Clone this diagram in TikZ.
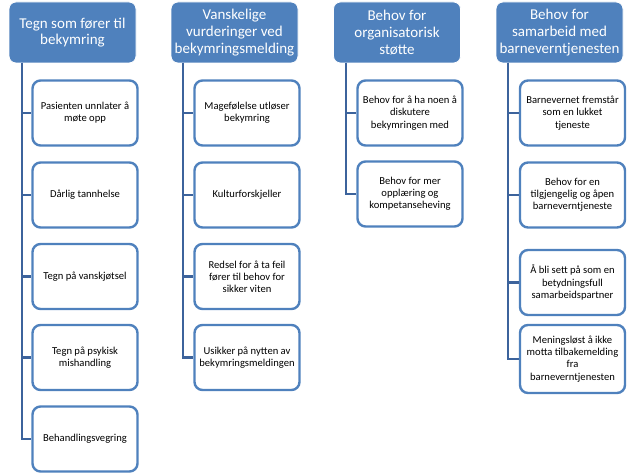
\documentclass[tikz,border=0pt]{standalone}
\usepackage{fontspec}
\setmainfont{Carlito}
\definecolor{hdrblue}{HTML}{4F81BD}
\definecolor{connblue}{HTML}{3C639C}
\definecolor{boxblue}{HTML}{4F81BD}
\begin{document}
\begin{tikzpicture}[x=1pt,y=-1pt,
  hdr/.style={draw=white, line width=0.8pt, fill=hdrblue, rounded corners=7pt,
    minimum width=127pt, minimum height=61pt, inner sep=1pt, align=center,
    text=white, font=\fontsize{15}{16.6}\selectfont},
  child/.style={draw=boxblue, line width=2.4pt, fill=white, rounded corners=8pt,
    minimum width=105pt, minimum height=65pt, inner sep=1pt, align=center,
    text=black, font=\fontsize{10.6}{12.2}\selectfont},
  conn/.style={draw=connblue, line width=2.8pt}]
\useasboundingbox (0,0) rectangle (635,473);

% connectors (trunk start points)
\coordinate (t1) at (22,63);
\coordinate (t2) at (183,63);
\coordinate (t3) at (346,63);
\coordinate (t4) at (508,63);

% headers
\node[hdr] (h1) at (72.5,32.5) {Tegn som fører til\\bekymring};
\node[hdr] (h2) at (234.5,32.5) {Vanskelige\\vurderinger ved\\bekymringsmelding};
\node[hdr] (h3) at (397,32.5) {Behov for\\organisatorisk\\støtte};
\node[hdr] (h4) at (559.5,32.5) {Behov for\\samarbeid med\\barneverntjenesten};

% column 1
\node[child] (a1) at (85,113) {Pasienten unnlater å\\møte opp};
\node[child] (a2) at (85,195) {Dårlig tannhelse};
\node[child] (a3) at (85,276.5) {Tegn på vanskjøtsel};
\node[child] (a4) at (85,357.5) {Tegn på psykisk\\mishandling};
\node[child] (a5) at (85,439) {Behandlingsvegring};

% column 2
\node[child] (b1) at (247,113) {Magefølelse utløser\\bekymring};
\node[child] (b2) at (247,195) {Kulturforskjeller};
\node[child] (b3) at (247,276.5) {Redsel for å ta feil\\fører til behov for\\sikker viten};
\node[child] (b4) at (247,357.5) {Usikker på nytten av\\bekymringsmeldingen};

% column 3
\node[child] (c1) at (410,113) {Behov for å ha noen å\\diskutere\\bekymringen med};
\node[child] (c2) at (410,194) {Behov for mer\\opplæring og\\kompetanseheving};

% column 4
\node[child] (d1) at (572.5,113) {Barnevernet fremstår\\som en lukket\\tjeneste};
\node[child] (d2) at (572.5,195) {Behov for en\\tilgjengelig og åpen\\barneverntjeneste};
\node[child] (d3) at (572.5,282.5) {Å bli sett på som en\\betydningsfull\\samarbeidspartner};
\node[child, minimum height=68pt] (d4) at (572.5,359) {Meningsløst å ikke\\motta tilbakemelding\\fra\\barneverntjenesten};

% connectors
\foreach \c in {a1,a2,a3,a4,a5} \draw[conn] (t1) |- (\c.west);
\foreach \c in {b1,b2,b3,b4} \draw[conn] (t2) |- (\c.west);
\foreach \c in {c1,c2} \draw[conn] (t3) |- (\c.west);
\foreach \c in {d1,d2,d3,d4} \draw[conn] (t4) |- (\c.west);
\end{tikzpicture}
\end{document}
